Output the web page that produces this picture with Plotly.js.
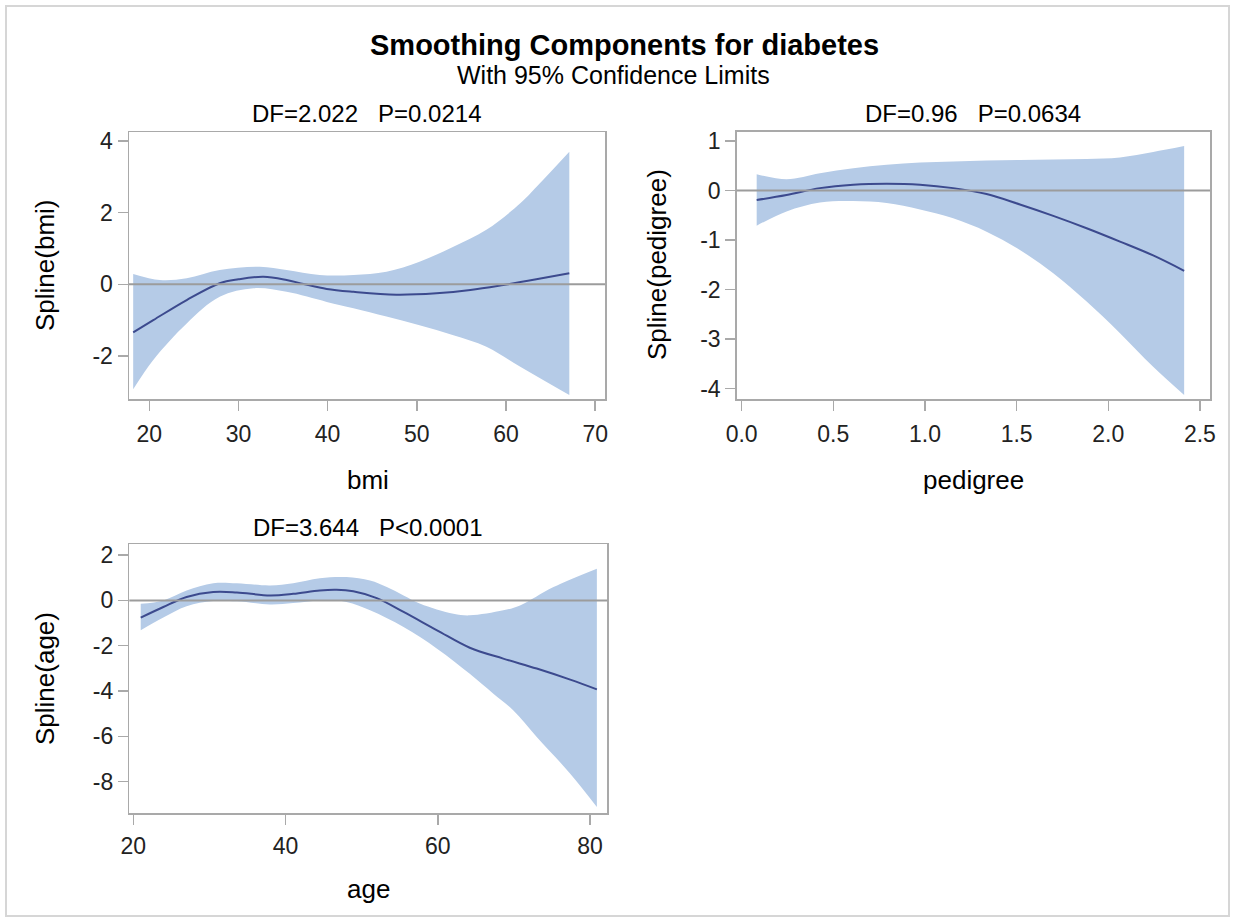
<!DOCTYPE html>
<html>
<head>
<meta charset="utf-8">
<script src="https://cdn.plot.ly/plotly-3.0.1.min.js"></script>
<style>html,body{margin:0;padding:0;background:#fff;}#chart{width:1233px;height:923px;}</style>
</head>
<body>
<div id="chart"></div>
<script>
// ---- bmi panel ----
const bmiFitX   = [18.2, 20.45, 24.2, 27.9, 30, 32.8, 35.4, 37.3, 39.9, 42.9, 47.7, 52.2, 56, 59.7, 63.4, 67.1];
const bmiFitY   = [-1.34, -1.0, -0.44, 0.03, 0.14, 0.21, 0.12, 0.01, -0.13, -0.21, -0.29, -0.25, -0.16, -0.02, 0.14, 0.31];
const bmiUpperX = [18.2, 21.2, 24.2, 27.9, 32.4, 35.4, 39.1, 42.9, 46.6, 50.3, 54.1, 57.8, 61.6, 63.8, 67.1];
const bmiUpperY = [0.29, 0.12, 0.17, 0.40, 0.49, 0.40, 0.26, 0.26, 0.35, 0.63, 1.05, 1.52, 2.26, 2.82, 3.70];
const bmiLowerX = [18.2, 20.45, 24.2, 27.9, 31.7, 35.4, 39.9, 42.9, 46.6, 50.3, 54.1, 57.8, 61.6, 67.1];
const bmiLowerY = [-2.93, -2.11, -1.09, -0.35, -0.11, -0.21, -0.49, -0.67, -0.90, -1.14, -1.42, -1.74, -2.30, -3.09];

// ---- pedigree panel ----
const pedX      = [0.082, 0.245, 0.427, 0.609, 0.791, 0.973, 1.154, 1.336, 1.518, 1.700, 1.882, 2.064, 2.245, 2.414];
const pedFitY   = [-0.19, -0.09, 0.05, 0.12, 0.14, 0.12, 0.05, -0.07, -0.28, -0.51, -0.76, -1.03, -1.31, -1.62];
const pedUpperY = [0.33, 0.23, 0.35, 0.45, 0.52, 0.57, 0.59, 0.61, 0.62, 0.63, 0.64, 0.67, 0.78, 0.90];
const pedLowerY = [-0.71, -0.42, -0.24, -0.21, -0.25, -0.38, -0.56, -0.83, -1.20, -1.67, -2.24, -2.88, -3.56, -4.13];

// ---- age panel ----
const ageFitX   = [20.97, 23.94, 27.0, 30.5, 33.6, 37.96, 41.0, 44.5, 46.7, 48.9, 51.98, 55.5, 59.9, 64.2, 68.6, 73.0, 77.4, 80.9];
const ageFitY   = [-0.76, -0.29, 0.15, 0.37, 0.35, 0.22, 0.29, 0.44, 0.47, 0.40, 0.10, -0.51, -1.32, -2.09, -2.57, -3.01, -3.50, -3.93];
const ageUpperX = [20.97, 23.94, 27.0, 30.5, 33.6, 37.96, 41.0, 44.5, 48.0, 51.1, 53.3, 55.5, 57.7, 62.05, 64.2, 68.6, 70.8, 75.2, 80.9];
const ageUpperY = [-0.15, 0.0, 0.44, 0.76, 0.76, 0.66, 0.76, 0.98, 1.03, 0.88, 0.59, 0.22, -0.15, -0.59, -0.66, -0.44, -0.22, 0.59, 1.40];
const ageLowerX = [20.97, 23.94, 27.0, 30.5, 33.6, 37.96, 41.0, 44.5, 48.0, 51.1, 55.5, 59.9, 64.2, 67.3, 69.9, 73.0, 77.4, 80.9];
const ageLowerY = [-1.32, -0.76, -0.26, -0.03, -0.04, -0.18, -0.12, 0.0, -0.07, -0.44, -1.18, -2.13, -3.24, -4.12, -4.85, -6.03, -7.65, -9.12];

// ---- tick labels ----
const bmiTicks   = [20, 30, 40, 50, 60, 70];
const bmiYTicks  = [-2, 0, 2, 4];
const pedTicks   = [0, 0.5, 1.0, 1.5, 2.0, 2.5];
const pedTickText = ["0.0", "0.5", "1.0", "1.5", "2.0", "2.5"];
const pedYTicks  = [-4, -3, -2, -1, 0, 1];
const ageTicks   = [20, 40, 60, 80];
const ageYTicks  = [-8, -6, -4, -2, 0, 2];

const titleText = "Smoothing Components for diabetes";
const subText = "With 95% Confidence Limits";
const panelTitles = ["DF=2.022   P=0.0214", "DF=0.96   P=0.0634", "DF=3.644   P<0.0001"];
const xTitles = ["bmi", "pedigree", "age"];
const yTitles = ["Spline(bmi)", "Spline(pedigree)", "Spline(age)"];

const FONT = "Liberation Sans, Arial, Helvetica, sans-serif";
const BAND = "#b5cbe7";
const LINE = "#3c4a8e";
const FRAME = "#a9a9a9";
const W = 1233, H = 923;
const px = v => v / W;
const py = v => 1 - v / H;

function band(xl, yl, xu, yu, xa, ya) {
  return [
    {x: xl, y: yl, xaxis: xa, yaxis: ya, type: "scatter", mode: "lines",
     line: {width: 0, shape: "spline", color: BAND}, hoverinfo: "skip", showlegend: false},
    {x: xu, y: yu, xaxis: xa, yaxis: ya, type: "scatter", mode: "lines", fill: "tonexty",
     fillcolor: BAND, line: {width: 0, shape: "spline", color: BAND}, hoverinfo: "skip", showlegend: false}
  ];
}
function fit(x, y, xa, ya) {
  return {x: x, y: y, xaxis: xa, yaxis: ya, type: "scatter", mode: "lines",
          line: {width: 2, color: LINE, shape: "spline"}, showlegend: false};
}
const neg = v => (v < 0 ? "-" + Math.abs(v) : String(v));

const data = [
  ...band(bmiLowerX, bmiLowerY, bmiUpperX, bmiUpperY, "x", "y"),
  fit(bmiFitX, bmiFitY, "x", "y"),
  ...band(pedX, pedLowerY, pedX, pedUpperY, "x2", "y2"),
  fit(pedX, pedFitY, "x2", "y2"),
  ...band(ageLowerX, ageLowerY, ageUpperX, ageUpperY, "x3", "y3"),
  fit(ageFitX, ageFitY, "x3", "y3")
];

const axBase = {
  showline: true, mirror: true, linecolor: FRAME, linewidth: 1.5,
  ticks: "outside", ticklen: 10, tickwidth: 1.5, tickcolor: FRAME,
  showgrid: false, zeroline: false, fixedrange: true,
  tickfont: {family: FONT, size: 23, color: "#222"}
};
function ax(extra) { return Object.assign({}, axBase, extra); }

const TF = size => ({size: size, family: FONT, color: "#000"});
function ann(text, x, y, size, angle) {
  const a = {text: text, xref: "paper", yref: "paper", x: px(x), y: py(y), showarrow: false,
             font: TF(size), xanchor: "center", yanchor: "middle"};
  if (angle) a.textangle = angle;
  return a;
}

const layout = {
  width: W, height: H,
  margin: {l: 0, r: 0, t: 0, b: 0},
  paper_bgcolor: "#fff", plot_bgcolor: "#fff",
  showlegend: false,
  font: {family: FONT, color: "#000"},
  xaxis: ax({domain: [px(129), px(605)], range: [17.73, 71.1], anchor: "y",
             tickvals: bmiTicks, ticktext: bmiTicks.map(String), ticklabelstandoff: 4}),
  yaxis: ax({domain: [py(399), py(132)], range: [-3.2, 4.25], anchor: "x",
             tickvals: bmiYTicks, ticktext: bmiYTicks.map(neg)}),
  xaxis2: ax({domain: [px(736.7), px(1210)], range: [-0.027, 2.555], anchor: "y2",
              tickvals: pedTicks, ticktext: pedTickText, ticklabelstandoff: 4}),
  yaxis2: ax({domain: [py(399), py(131.7)], range: [-4.21, 1.19], anchor: "x2",
              tickvals: pedYTicks, ticktext: pedYTicks.map(neg)}),
  xaxis3: ax({domain: [px(129.3), px(607.3)], range: [19.47, 82.27], anchor: "y3",
              tickvals: ageTicks, ticktext: ageTicks.map(String), ticklabelstandoff: 2}),
  yaxis3: ax({domain: [py(813.3), py(544)], range: [-9.4, 2.49], anchor: "x3",
              tickvals: ageYTicks, ticktext: ageYTicks.map(neg)}),
  shapes: [
    {type: "line", xref: "x domain", yref: "y", x0: 0, x1: 1, y0: 0, y1: 0, line: {color: "#9c9c9c", width: 2}},
    {type: "line", xref: "x2 domain", yref: "y2", x0: 0, x1: 1, y0: 0, y1: 0, line: {color: "#9c9c9c", width: 2}},
    {type: "line", xref: "x3 domain", yref: "y3", x0: 0, x1: 1, y0: 0, y1: 0, line: {color: "#9c9c9c", width: 2}},
    {type: "rect", xref: "paper", yref: "paper", x0: px(6), x1: px(1229), y0: py(916), y1: py(6),
     line: {color: "#d6d6d6", width: 2}, fillcolor: "rgba(0,0,0,0)", layer: "below"}
  ],
  annotations: [
    ann("<b>" + titleText + "</b>", 624, 45, 29),
    ann(subText, 613, 75, 25),
    ann(panelTitles[0], 367, 113, 24),
    ann(panelTitles[1], 973, 113, 24),
    ann(panelTitles[2], 368, 527, 24),
    ann(xTitles[0], 368, 480, 26),
    ann(xTitles[1], 973, 480, 26),
    ann(xTitles[2], 368, 889, 26),
    ann(yTitles[0], 45, 265, 26, -90),
    ann(yTitles[1], 657, 265, 26, -90),
    ann(yTitles[2], 45, 678, 26, -90)
  ]
};

Plotly.newPlot("chart", data, layout, {displayModeBar: false, staticPlot: true});
</script>
</body>
</html>
